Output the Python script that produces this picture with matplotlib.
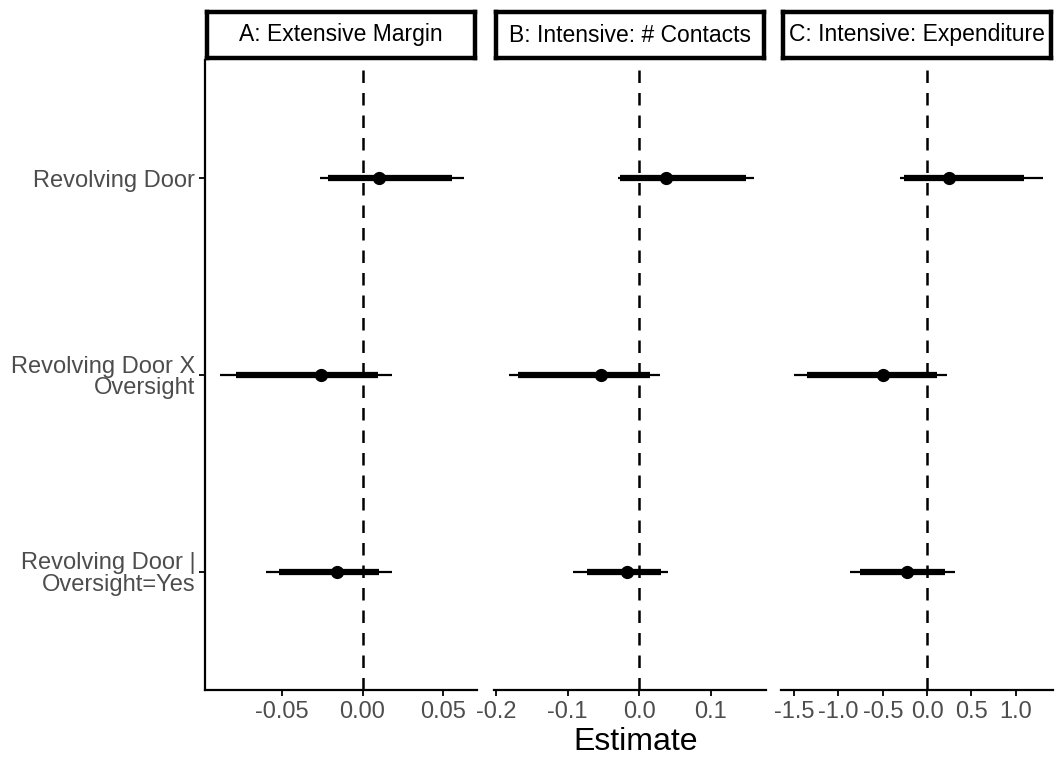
import matplotlib
matplotlib.use("Agg")
import matplotlib.pyplot as plt

plt.rcParams['font.family'] = ['Liberation Sans', 'DejaVu Sans']

# terms, top to bottom
terms = ["Revolving Door", "Revolving Door X\nOversight", "Revolving Door |\nOversight=Yes"]
panels = ["A: Extensive Margin", "B: Intensive: # Contacts", "C: Intensive: Expenditure"]

# point estimates per panel (same order as terms)
est_a = [0.0102, -0.0258, -0.0157]
est_b = [0.0368, -0.0532, -0.0166]
est_c = [0.245, -0.494, -0.224]

# thin (outer) intervals
lo95_a = [-0.0266, -0.0883, -0.0599]
hi95_a = [0.0628, 0.0184, 0.0184]
lo95_b = [-0.0298, -0.182, -0.0919]
hi95_b = [0.1597, 0.0286, 0.040]
lo95_c = [-0.311, -1.496, -0.867]
hi95_c = [1.307, 0.224, 0.31]

# thick (inner) intervals
lo90_a = [-0.0217, -0.0783, -0.0517]
hi90_a = [0.0556, 0.0096, 0.0102]
lo90_b = [-0.0266, -0.169, -0.0735]
hi90_b = [0.1487, 0.0148, 0.0309]
lo90_c = [-0.266, -1.352, -0.753]
hi90_c = [1.098, 0.11, 0.197]

xlims = [(-0.0977, 0.071), (-0.2028, 0.177), (-1.648, 1.42)]
xticks = [[-0.05, 0.0, 0.05], [-0.2, -0.1, 0.0, 0.1], [-1.5, -1.0, -0.5, 0.0, 0.5, 1.0]]
xticklabels = [["-0.05", "0.00", "0.05"], ["-0.2", "-0.1", "0.0", "0.1"],
               ["-1.5", "-1.0", "-0.5", "0.0", "0.5", "1.0"]]

data = [(est_a, lo95_a, hi95_a, lo90_a, hi90_a),
        (est_b, lo95_b, hi95_b, lo90_b, hi90_b),
        (est_c, lo95_c, hi95_c, lo90_c, hi90_c)]

W, H = 1056, 757
fig = plt.figure(figsize=(W / 100, H / 100), dpi=100)

lefts = [205, 494, 781]
pw = 272
ptop, pbot = 60, 690
ypos = [3, 2, 1]
grey = "#4D4D4D"

for i, (est, lo95, hi95, lo90, hi90) in enumerate(data):
    ax = fig.add_axes([lefts[i] / W, 1 - pbot / H, pw / W, (pbot - ptop) / H])
    ax.axvline(0, color="black", lw=1.8, ls=(0, (5, 4)), zorder=1)
    ax.hlines(ypos, lo95, hi95, color="black", lw=1.6, zorder=2)
    ax.hlines(ypos, lo90, hi90, color="black", lw=4.5, zorder=3)
    ax.plot(est, ypos, "o", color="black", ms=8.5, zorder=4)
    ax.set_xlim(*xlims[i])
    ax.set_ylim(0.4, 3.6)
    ax.set_xticks(xticks[i])
    ax.set_xticklabels(xticklabels[i], fontsize=17, color=grey)
    ax.tick_params(axis="x", length=4, width=1.3, pad=4)
    for s in ["top", "right"]:
        ax.spines[s].set_visible(False)
    ax.spines["bottom"].set_linewidth(1.6)
    if i == 0:
        ax.spines["left"].set_linewidth(1.6)
        ax.set_yticks(ypos)
        ax.set_yticklabels(terms, fontsize=17, color=grey, ha="right",
                           multialignment="right", linespacing=0.95)
        ax.tick_params(axis="y", length=4, width=1.3, pad=3)
    else:
        ax.spines["left"].set_visible(False)
        ax.set_yticks([])
    ax.patch.set_alpha(0)

    # facet strip
    sax = fig.add_axes([(lefts[i] + 2) / W, 1 - 58 / H, (pw - 4) / W, 46 / H])
    sax.set_xticks([])
    sax.set_yticks([])
    for s in sax.spines.values():
        s.set_linewidth(3.2)
    sax.text(0.5, 0.5, panels[i], ha="center", va="center", fontsize=16.5,
             transform=sax.transAxes)

fig.text(636 / W, 1 - 742 / H, "Estimate", ha="center", va="center", fontsize=23)

fig.savefig("out.png", dpi=100)
